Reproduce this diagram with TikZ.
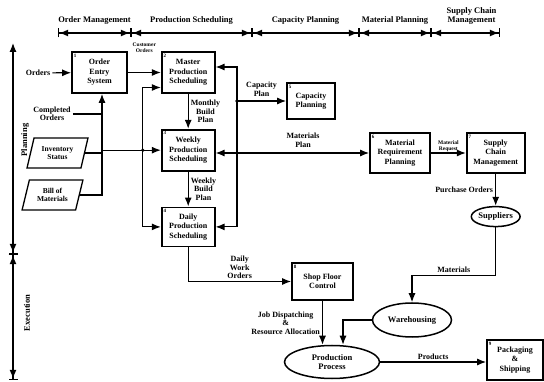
\documentclass[tikz,border=0pt]{standalone}
\usepackage{fontspec}
\setmainfont{Liberation Serif}
\usetikzlibrary{positioning,arrows.meta,shapes.geometric}

\begin{document}
\begin{tikzpicture}[x=1pt,y=-1pt,
  font=\bfseries\fontsize{8}{8.5}\selectfont,
  box/.style={draw,line width=1.7pt,minimum width=53pt,minimum height=41pt,align=center,inner sep=1pt,
    font=\bfseries\fontsize{8}{9.5}\selectfont,label={[boxnum]north west:#1}},
  boxnum/.style={anchor=north west,inner sep=2.5pt,font=\bfseries\fontsize{5}{5}\selectfont},
  store/.style={ellipse,draw,line width=1.5pt,inner sep=0pt,align=center,font=\bfseries\fontsize{8.5}{9}\selectfont},
  record/.style={trapezium,trapezium left angle=70,trapezium right angle=110,trapezium stretches=true,
    draw,line width=1.3pt,minimum width=61pt,minimum height=30pt,inner sep=0pt,align=center,
    font=\bfseries\fontsize{7.5}{8}\selectfont},
  lbl/.style={align=center,inner sep=2pt},
  tinylbl/.style={align=center,inner sep=1pt,font=\bfseries\fontsize{5.5}{6}\selectfont},
  head/.style={align=center,inner sep=1pt,font=\bfseries\fontsize{8.5}{9}\selectfont},
  flow/.style={line width=1.2pt,-{Latex[length=9pt,width=7pt]}},
  wire/.style={line width=1.2pt},
  span/.style={line width=1.2pt,{Bar[width=9pt] Latex[length=9pt,width=7pt]}-{Latex[length=9pt,width=7pt] Bar[width=9pt]}},
  spantop/.style={line width=1.2pt,{Latex[length=9pt,width=7pt]}-{Latex[length=9pt,width=7pt] Bar[width=9pt]}}
]
\useasboundingbox (0,0) rectangle (544,382);

\coordinate (h0) at (58,33);
\coordinate (h1) at (131,33);
\coordinate (h2) at (252,33);
\coordinate (h3) at (359,33);
\coordinate (h4) at (431,33);
\coordinate (h5) at (500,33);
\draw[span] (h0) -- (h1) node[midway,above=7pt,head] {Order Management};
\draw[span] (h1) -- (h2) node[midway,above=7pt,head] {Production Scheduling};
\draw[span] (h2) -- (h3) node[midway,above=7pt,head] {Capacity Planning};
\draw[span] (h3) -- (h4) node[midway,above=7pt,head] {Material Planning};
\draw[span] (h4) -- (h5) node[midway,above=7pt,head,xshift=6pt] {Supply Chain\\Management};

\coordinate (v0) at (13,43);
\coordinate (v1) at (13,254);
\coordinate (v2) at (13,380);
\draw[spantop] (v0) -- (v1);
\draw[span] (v1) -- (v2);
\node[head,rotate=90] (planning) at (25,140) {Planning};
\node[head,rotate=90] (execution) at (27,313) {Execution};

\node[box=1,minimum width=55pt] (entry) at (99.5,72.5) {Order\\Entry\\System};
\node[box=2,right=33pt of entry] (master) {Master\\Production\\Scheduling};
\node[box=3,below=35pt of master] (weekly) {Weekly\\Production\\Scheduling};
\node[box=4,below=35pt of weekly,minimum height=39pt] (daily) {Daily\\Production\\Scheduling};
\node[box=5,minimum width=48pt,minimum height=36pt] (capacity) at (311,101) {Capacity\\Planning};
\node[box=6,minimum width=60pt,minimum height=40pt] (mrp) at (400,153) {Material\\Requirement\\Planning};
\node[box=7,right=35pt of mrp,minimum width=58pt,minimum height=40pt] (scm) {Supply\\Chain\\Management};
\node[store,minimum width=48pt,minimum height=20pt,below=32pt of scm] (suppliers) {Suppliers};
\node[box=8,minimum width=61pt,minimum height=37pt] (shop) at (322.5,281.5) {Shop Floor\\Control};
\node[store,minimum width=79pt,minimum height=34pt] (warehousing) at (412,320) {Warehousing};
\node[store,minimum width=95pt,minimum height=33pt] (production) at (332,362) {Production\\Process};
\node[box=9,minimum width=56pt,minimum height=40pt] (packaging) at (515,360) {Packaging\\\&\\Shipping};
\node[record] (inventory) at (57.5,153) {Inventory\\Status};
\node[record] (bom) at (52.5,195) {Bill of\\Materials};
\node[lbl] (orders) at (38,73) {Orders};
\node[lbl] (completed) at (52,114) {Completed\\Orders};

\draw[flow] (orders) -- (entry);
\draw[flow] (entry) -- (master) node[midway,above=18pt,tinylbl] {Customer\\Orders};

\coordinate (ea) at ([xshift=2.5pt]entry.south);
\draw[flow] (bom.east) -| (ea);
\draw[wire] (inventory.east) -- (inventory.east -| ea);
\draw[wire] (completed.east) -- (completed.east -| ea);
\coordinate (bus) at ([xshift=-18pt]weekly.west);
\draw[flow] (ea |- weekly.west) -- (weekly.west);
\draw[flow] (bus) |- ([yshift=-15pt]master.west);
\draw[flow] (bus) |- (daily.west);
\fill (bus) circle (1.8pt);

\coordinate (mr) at (237,153);
\draw[flow] (mr) |- ([yshift=5.5pt]master.east);
\draw[flow] (mr) |- (daily.east);
\draw[flow] (mr) -- (weekly.east |- mr);
\draw[flow] (mr) -- (mrp.west) node[midway,above=3pt,lbl] {Materials\\Plan};
\draw[flow] (capacity.west -| mr) -- (capacity.west) node[midway,above=2pt,lbl] {Capacity\\Plan};
\fill (mr) circle (1.8pt);
\fill (capacity.west -| mr) circle (1.8pt);

\draw[flow] (master) -- (weekly) node[midway,right,lbl] {Monthly\\Build\\Plan};
\draw[flow] (weekly) -- (daily) node[midway,right,lbl] {Weekly\\Build\\Plan};
\draw[flow] (mrp) -- (scm) node[midway,above,tinylbl] {Material\\Request};
\draw[flow] (scm) -- (suppliers) node[midway,left,lbl] {Purchase Orders};
\draw[flow] (suppliers.south) -- ++(0,48) -| (warehousing.north) node[pos=0.25,above,lbl] {Materials};
\draw[flow] (warehousing.west) -| ([xshift=11pt]production.north);
\draw[flow] (daily.south) |- (shop.west) node[pos=0.75,above,lbl] {Daily\\Work\\Orders};
\draw[flow] (shop.south) -- (shop.south |- production.north) node[midway,left,lbl] {Job Dispatching\\\&\\Resource Allocation};
\draw[flow] (production.east) -- (production.east -| packaging.west) node[midway,above,lbl] {Products};
\end{tikzpicture}
\end{document}
